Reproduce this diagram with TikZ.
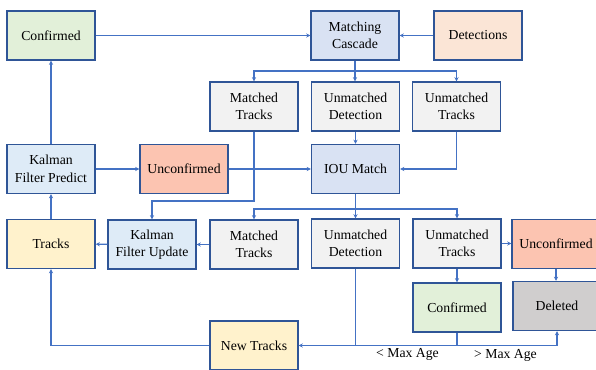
\documentclass[tikz,border=0pt]{standalone}
\usepackage{fontspec}
\setmainfont{Liberation Serif}
\usetikzlibrary{arrows.meta}
\definecolor{bdr}{HTML}{2F5597}
\definecolor{ln}{HTML}{4472C4}
\definecolor{fgreen}{HTML}{E2F0D9}
\definecolor{fblue}{HTML}{D9E2F3}
\definecolor{flblue}{HTML}{DEEBF7}
\definecolor{forange}{HTML}{FBE5D6}
\definecolor{fred}{HTML}{FCC4B1}
\definecolor{fgrey}{HTML}{F2F2F2}
\definecolor{fdel}{HTML}{D0CECE}
\definecolor{fyellow}{HTML}{FFF2CC}
\tikzset{
  box/.style={draw=bdr, line width=1.1pt, minimum width=66pt, minimum height=36.75pt,
    align=center, inner sep=0pt, font=\fontsize{10.3}{13.2}\selectfont},
  conn/.style={draw=ln, line width=0.8pt, -{Stealth[length=3pt,width=3pt]}},
  plain/.style={draw=ln, line width=0.8pt},
  lbl/.style={font=\fontsize{10.3}{13.2}\selectfont, inner sep=0pt}
}
\begin{document}
\begin{tikzpicture}[x=0.75pt,y=-0.75pt]
\useasboundingbox (0,0) rectangle (596,370);
% nodes
\node[box, fill=fgreen] (conf) at (51,35.5) {Confirmed};
\node[box, fill=fblue] (mc) at (355,35.5) {Matching\\Cascade};
\node[box, fill=forange] (det) at (478,35.5) {Detections};
\node[box, fill=fgrey] (mt1) at (254,106.5) {Matched\\Tracks};
\node[box, fill=fgrey] (ud1) at (355.5,106.5) {Unmatched\\Detection};
\node[box, fill=fgrey] (ut1) at (456.5,106.5) {Unmatched\\Tracks};
\node[box, fill=flblue] (kfp) at (51,169) {Kalman\\Filter Predict};
\node[box, fill=fred] (unc1) at (184,169) {Unconfirmed};
\node[box, fill=fblue] (iou) at (355.5,169) {IOU Match};
\node[box, fill=fyellow] (tracks) at (51,244) {Tracks};
\node[box, fill=flblue] (kfu) at (152,244.5) {Kalman\\Filter Update};
\node[box, fill=fgrey] (mt2) at (254,244.5) {Matched\\Tracks};
\node[box, fill=fgrey] (ud2) at (355.5,243.5) {Unmatched\\Detection};
\node[box, fill=fgrey] (ut2) at (457,243.5) {Unmatched\\Tracks};
\node[box, fill=fred] (unc2) at (556,244) {Unconfirmed};
\node[box, fill=fgreen] (conf2) at (457,307.5) {Confirmed};
\node[box, fill=fdel] (del) at (557,306) {Deleted};
\node[box, fill=fyellow] (nt) at (254,345.5) {New Tracks};
\node[lbl] (lmin) at (407.5,354) {< Max Age};
\node[lbl] (lmax) at (505.5,355.5) {> Max Age};
% connectors
\draw[conn] (conf) -- (mc);
\draw[conn] (det) -- (mc);
\coordinate (s1) at (355,71);
\draw[plain] (mc.south) -- (s1);
\draw[conn] (s1) -| (mt1.north);
\draw[conn] (s1) -| (ut1.north);
\draw[conn] (s1) -- (ud1.north -| s1);
\draw[conn] (ud1) -- (iou);
\draw[conn] (ut1.south) |- (iou.east);
\draw[conn] (unc1) -- (iou);
\draw[conn] (kfp) -- (unc1);
\draw[conn] (kfp) -- (conf);
\draw[conn] (tracks) -- (kfp);
\coordinate (c2) at (254,201);
\draw[conn] (mt1.south) -- (c2) -| (kfu.north);
\coordinate (s2) at (355.5,209);
\draw[plain] (iou.south) -- (s2);
\draw[conn] (s2) -| (mt2.north);
\draw[conn] (s2) -| (ut2.north);
\draw[conn] (s2) -- (ud2.north);
\draw[conn] (mt2) -- (kfu);
\draw[conn] (kfu) -- (tracks);
\draw[conn] (ut2) -- (ut2 -| unc2.west);
\draw[conn] (ut2) -- (conf2);
\draw[conn] (unc2.south) -- (unc2.south |- del.north);
\draw[conn] (ud2.south) |- (nt.east);
\coordinate (j) at (457,345.5);
\draw[plain] (conf2.south) -- (j) -- (ud2.south |- j);
\draw[conn] (j) -| (del.south);
\draw[conn] (nt.west) -| (tracks.south);
\end{tikzpicture}
\end{document}
